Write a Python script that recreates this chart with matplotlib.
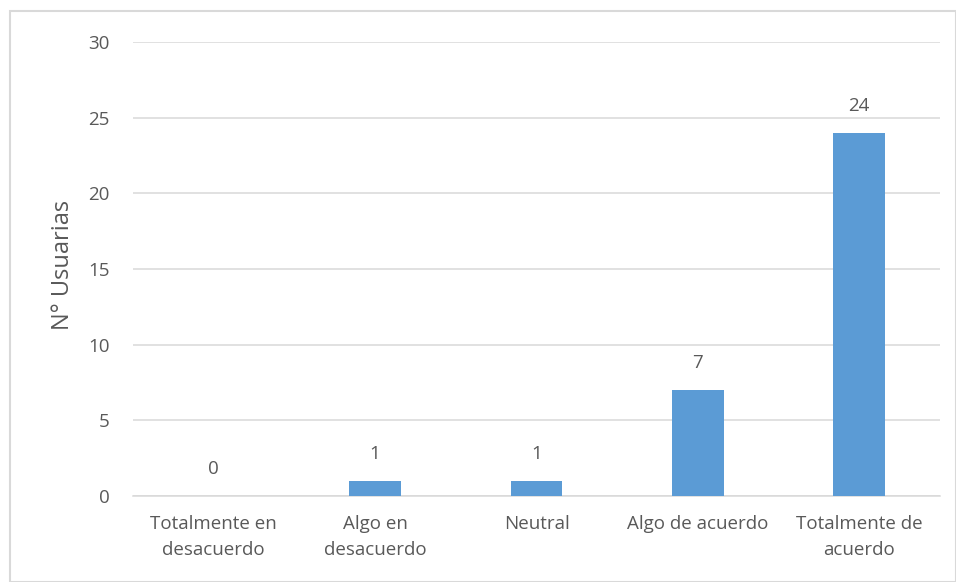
import matplotlib.pyplot as plt
from matplotlib.patches import Rectangle

categories = ['Totalmente en\ndesacuerdo', 'Algo en\ndesacuerdo', 'Neutral',
              'Algo de acuerdo', 'Totalmente de\nacuerdo']
counts = [0, 1, 1, 7, 24]
yticks = [0, 5, 10, 15, 20, 25, 30]

TEXT = '#595959'
GRID = '#D9D9D9'
BAR = '#5B9BD5'

plt.rcParams['font.family'] = ['Open Sans', 'DejaVu Sans']

W, H = 956, 582
fig = plt.figure(figsize=(W / 100, H / 100), dpi=100)
ax = fig.add_axes([133 / W, 1 - 496 / H, (940 - 133) / W, (496 - 42) / H])

x = range(len(categories))
ax.bar(x, counts, width=0.32, color=BAR, zorder=3)
for xi, v in zip(x, counts):
    ax.annotate(str(v), (xi, v), xytext=(0, 19.5), textcoords='offset points',
                ha='center', va='center', fontsize=13.5, color=TEXT)

ax.set_xlim(-0.5, len(categories) - 0.5)
ax.set_ylim(0, 30)
ax.set_yticks(yticks)
ax.set_xticks(list(x))
ax.set_xticklabels(categories, linespacing=1.55)
ax.tick_params(axis='both', length=0, labelsize=13.5, labelcolor=TEXT)
ax.tick_params(axis='y', pad=17)
ax.tick_params(axis='x', pad=14)
ax.grid(axis='y', color=GRID, linewidth=1.1, zorder=0)
for s in ['top', 'right', 'left']:
    ax.spines[s].set_visible(False)
ax.spines['bottom'].set_color(GRID)
ax.spines['bottom'].set_linewidth(1.1)

fig.text(63 / W, 1 - 265 / H, 'N° Usuarias', rotation=90, ha='center',
         va='center', fontsize=17, color=TEXT)

# thin frame round the whole chart
fig.patches.append(Rectangle((10 / W, 0.5 / H), (W - 10.5) / W, (H - 11.5) / H,
                             transform=fig.transFigure, fill=False,
                             edgecolor='#D9D9D9', linewidth=1.5))

fig.savefig('out.png', dpi=100)
